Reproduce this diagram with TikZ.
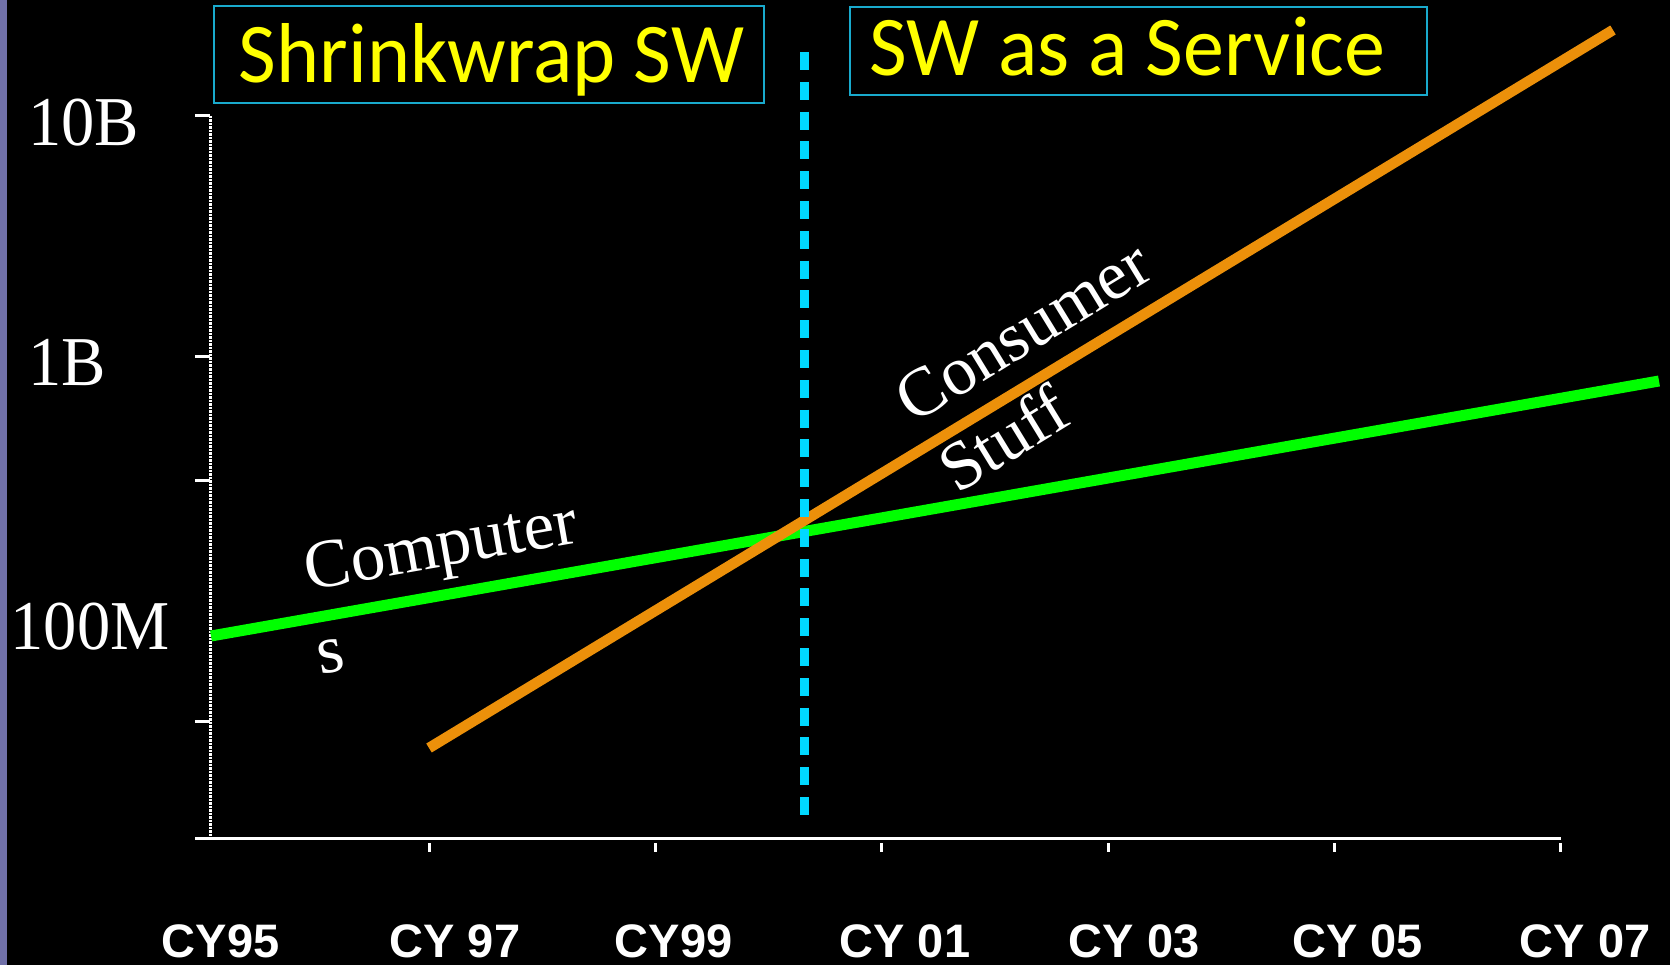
\documentclass[tikz,border=0pt]{standalone}
\usepackage{fontspec}
\setmainfont{Liberation Serif}
\newfontfamily\ylabfont{Liberation Serif}[FakeStretch=0.95]
\newfontfamily\axisfont{Liberation Sans}
\newfontfamily\titlefont{Carlito}[FakeStretch=0.965]
\definecolor{bgpurple}{RGB}{112,112,168}
\definecolor{linegreen}{RGB}{0,255,0}
\definecolor{lineorange}{RGB}{236,144,10}
\definecolor{dashcyan}{RGB}{0,216,255}
\definecolor{boxcyan}{RGB}{25,170,205}
\definecolor{titleyellow}{RGB}{255,255,0}
\begin{document}
\begin{tikzpicture}[x=1pt,y=-1pt,
  ylab/.style={text=white, font=\fontsize{70}{80}\selectfont\ylabfont, inner sep=0pt, anchor=base},
  curvelab/.style={text=white, font=\fontsize{69}{80}\selectfont, inner sep=0pt},
  xlab/.style={text=white, font=\fontsize{47}{50}\selectfont\axisfont\bfseries, inner sep=0pt, anchor=base},
  titlebox/.style={draw=boxcyan, line width=2, inner sep=0pt, outer sep=0pt},
  titletext/.style={text=titleyellow, font=\fontsize{85}{90}\selectfont\titlefont, inner sep=0pt, anchor=base},
  axisline/.style={white, line width=3},
  curve/.style={line width=11, line cap=butt}
]
\useasboundingbox (0,0) rectangle (1670,965);
\fill[black] (0,0) rectangle (1670,965);
\fill[bgpurple] (0,0) rectangle (7,965);

% axes
\coordinate (ytop) at (210,116);
\coordinate (origin) at (210,838);
\coordinate (xstart) at (195,838);
\coordinate (xend) at (1561,838);
\draw[axisline, dash pattern=on 2.5pt off 1pt] (ytop) -- (origin);
\draw[axisline] (xstart) -- (xend);
\foreach \yy in {116,357,480,721} \draw[axisline] (195,\yy) -- (210,\yy);
\foreach \xx in {429,655,881,1108,1334,1560} \draw[axisline] (\xx,843) -- (\xx,852);

% y labels
\node[ylab] (l10b) at (83.5,146) {10B};
\node[ylab] (l1b) at (67.5,385) {1B};
\node[ylab] (l100m) at (90,649) {100M};

% x labels
\node[xlab] (cy95) at (220.5,957) {CY95};
\node[xlab] (cy97) at (455,957) {CY 97};
\node[xlab] (cy99) at (673.5,957) {CY99};
\node[xlab] (cy01) at (905,957) {CY 01};
\node[xlab] (cy03) at (1134,957) {CY 03};
\node[xlab] (cy05) at (1357.5,957) {CY 05};
\node[xlab] (cy07) at (1585,957) {CY 07};

% curves
\coordinate (g1) at (211,636);
\coordinate (g2) at (1659,381);
\coordinate (o1) at (429,748);
\coordinate (o2) at (1613,30);
\draw[curve, linegreen] (g1) -- (g2);
\draw[curve, lineorange, line width=10.5] (o1) -- (o2);

% divider
\coordinate (d1) at (804.5,52);
\coordinate (d2) at (804.5,815);
\draw[dashcyan, line width=9, dash pattern=on 18pt off 11.8pt] (d1) -- (d2);

% curve labels
\node[curvelab, rotate=10] (comp) at (442,551) {Computer};
\node[curvelab, rotate=10] (comps) at (331,656) {s};
\node[curvelab, rotate=31.5] (cons) at (1023,331) {Consumer};
\node[curvelab, rotate=31.5] (stuff) at (1003,438) {Stuff};

% title boxes
\node[titlebox, minimum width=550, minimum height=97] (box1) at (489,54.5) {};
\node[titletext] (t1) at (491.5,83) {Shrinkwrap SW};
\node[titlebox, minimum width=577, minimum height=88] (box2) at (1138.5,51) {};
\node[titletext] (t2) at (1127.5,76) {SW as a Service};
\end{tikzpicture}
\end{document}
